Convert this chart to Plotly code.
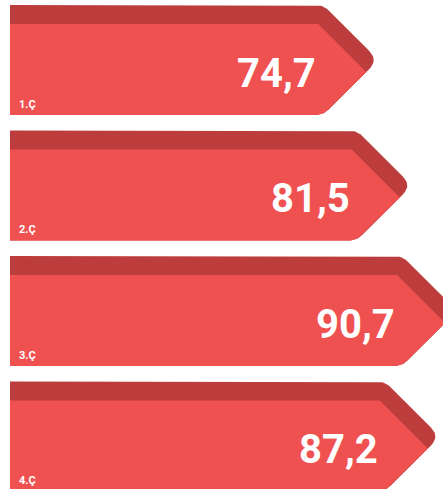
import numpy as np
import plotly.graph_objects as go

# ---- data ----
categories = ["1.Ç", "2.Ç", "3.Ç", "4.Ç"]
values = [74.7, 81.5, 90.7, 87.2]
value_labels = ["74,7", "81,5", "90,7", "87,2"]

# ---- style ----
W, H = 443, 489
KX = 4.93      # px per value unit
KY = 125.5     # px per category step
X0_PX = 10     # pixel position of value 0
Y0_PX = 60     # pixel position of first category centre
MAIN = "#EF5050"
SHADOW = "#BD3D3D"

x_range = [-X0_PX / KX, (W - X0_PX) / KX]
y_range = [(H - Y0_PX) / KY, -Y0_PX / KY]


def rounded(points, radii, n=12):
    """points: list of (x, y) in px; radii: rounding distance per vertex."""
    out = []
    m = len(points)
    for k in range(m):
        v = np.array(points[k], float)
        r = radii[k]
        if r <= 0:
            out.append(tuple(v))
            continue
        p = np.array(points[k - 1], float)
        q = np.array(points[(k + 1) % m], float)
        a = v + (p - v) / np.linalg.norm(p - v) * r
        b = v + (q - v) / np.linalg.norm(q - v) * r
        for t in np.linspace(0, 1, n):
            pt = (1 - t) ** 2 * a + 2 * (1 - t) * t * v + t ** 2 * b
            out.append(tuple(pt))
    out.append(out[0])
    return out


fig = go.Figure()
annotations = []
for i, (cat, v, lab) in enumerate(zip(categories, values, value_labels)):
    A = v * KX  # apex in local px
    outer = [(0, -55), (A - 55, -55), (A, 0), (A - 55, 55), (0, 55)]
    outer_r = [0, 8, 13, 8, 0]
    main = [(0, -36), (A - 60, -36), (A - 12, 12), (A - 55, 55), (0, 55)]
    main_r = [0, 0, 0, 8, 0]
    for pts, rr, col in ((outer, outer_r, SHADOW), (main, main_r, MAIN)):
        poly = rounded(pts, rr)
        xs = [p[0] / KX for p in poly]
        ys = [i + p[1] / KY for p in poly]
        fig.add_trace(go.Scatter(x=xs, y=ys, mode="lines", fill="toself",
                                 fillcolor=col, line=dict(width=0, color=col),
                                 hoverinfo="skip", showlegend=False))
    annotations.append(dict(x=v - 60 / KX, y=i + 13 / KY, text=lab,
                            xanchor="right", yanchor="middle", showarrow=False,
                            font=dict(family="Roboto", size=40, color="white", weight=700)))
    annotations.append(dict(x=6.5 / KX, y=i + 44 / KY, text=cat,
                            xanchor="left", yanchor="middle", showarrow=False,
                            font=dict(family="Roboto", size=11, color="white", weight=700)))

fig.update_layout(
    width=W, height=H, autosize=False,
    margin=dict(l=0, r=0, t=0, b=0),
    paper_bgcolor="white", plot_bgcolor="white",
    xaxis=dict(range=x_range, visible=False, fixedrange=True),
    yaxis=dict(range=y_range, visible=False, fixedrange=True),
    annotations=annotations,
)

fig.write_html("out.html", config={"displayModeBar": False},
               post_script="document.body.style.margin='0';")
